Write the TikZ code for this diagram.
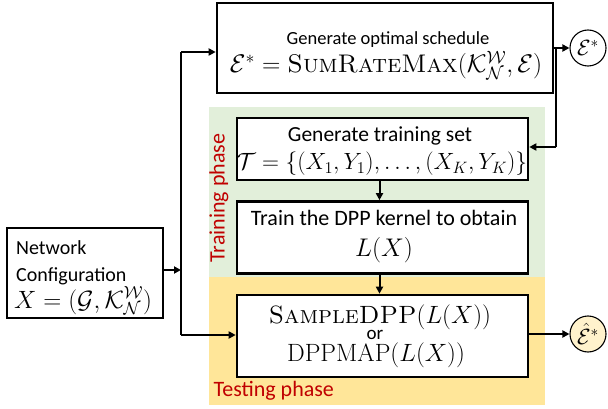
\RequirePackage{fix-cm}
\documentclass[tikz,border=0pt]{standalone}
\usepackage{amsmath}
\usepackage[no-math]{fontspec}
\newfontfamily\calfont{Carlito}
\usetikzlibrary{arrows.meta}
\definecolor{trgreen}{HTML}{E2EFDA}
\definecolor{tsyellow}{HTML}{FFE699}
\definecolor{phred}{HTML}{C00000}
\definecolor{circyellow}{HTML}{FFF2CC}
\tikzset{
  box/.style={draw=black, line width=2.6pt, fill=white, inner sep=0pt},
  lbl/.style={inner sep=0pt, anchor=base},
  lblw/.style={inner sep=0pt, anchor=base west},
  conn/.style={line width=2pt, -{Triangle[length=7pt,width=7pt]}},
  plain/.style={line width=2pt},
  outc/.style={draw=black, line width=1.1pt, circle, minimum size=36pt, inner sep=0pt},
  phase/.style={font=\calfont\fontsize{22}{24}\selectfont, text=phred}
}
\newcommand{\msz}[2]{{\fontsize{#1}{#1}\selectfont$#2$}}
\newcommand{\tsz}[2]{{\calfont\fontsize{#1}{#1}\selectfont #2}}
\begin{document}
\begin{tikzpicture}[x=1pt,y=-1pt]
\useasboundingbox (0,0) rectangle (608,409);
% phase regions
\fill[trgreen] (209,107) rectangle (545,277);
\fill[tsyellow] (209,277) rectangle (545,405);
\node[phase, rotate=90] (trlab) at (219,198) {Training phase};
\node[phase, anchor=west] (tslab) at (210,391) {Testing phase};
% boxes
\node[box, minimum width=336pt, minimum height=90pt] (top) at (385,48) {};
\node[box, minimum width=291pt, minimum height=62pt] (trset) at (382.5,149) {};
\node[box, minimum width=291pt, minimum height=72pt] (train) at (382.5,237.5) {};
\node[box, minimum width=291pt, minimum height=82pt] (sample) at (382.5,336) {};
\node[box, minimum width=156pt, minimum height=90pt] (net) at (85,273) {};
% box texts
\node[lbl] (topA) at (388,45) {\tsz{18.5}{Generate optimal schedule}};
\node[lbl] (topB) at (386,73) {\msz{25.5}{\mathcal{E}^* = \text{\normalfont\scshape SumRateMax}(\mathcal{K}_{\mathcal{N}}^{\mathcal{W}},\mathcal{E})}};
\node[lbl] (trsetA) at (380,142) {\tsz{21.5}{Generate training set}};
\node[lbl] (trsetB) at (382,169.5) {\msz{23.5}{\mathcal{T}=\{(X_1,Y_1),\ldots,(X_K,Y_K)\}}};
\node[lbl] (trainA) at (384,225) {\tsz{22}{Train the DPP kernel to obtain}};
\node[lbl] (trainB) at (384,256) {\msz{25.5}{L(X)}};
\node[lbl] (sampleA) at (380,323) {\msz{25}{\text{\normalfont\scshape SampleDPP}(L(X))}};
\node[lbl] (sampleB) at (375,339) {\tsz{19}{or}};
\node[lbl] (sampleC) at (376,361) {\msz{25}{\mathrm{DPPMAP}(L(X))}};
\node[lblw] (netA) at (16,254) {\tsz{20}{Network}};
\node[lblw] (netB) at (16,281) {\tsz{20}{Configuration}};
\node[lblw] (netC) at (14,308) {\msz{25}{X=(\mathcal{G},\mathcal{K}_{\mathcal{N}}^{\mathcal{W}})}};
% outputs
\node[outc, fill=white] (estar) at (588,48) {\msz{22}{\mathcal{E}^*}};
\node[outc, fill=circyellow] (ehat) at (588,334) {\msz{22}{\hat{\mathcal{E}}^*}};
% junctions
\coordinate (jtop) at (181,52);
\coordinate (jnet) at (181,270);
\coordinate (jbot) at (181,335);
\coordinate (jr) at (556,48);
\coordinate (jrb) at (556,147);
% connectors
\draw[plain] (jtop) -- (jbot);
\draw[conn] (net.east |- jnet) -- (jnet);
\draw[conn] (jtop) -- (top.west |- jtop);
\draw[conn] (jbot) -- (sample.west |- jbot);
\draw[conn] (top.east |- estar) -- (estar);
\draw[plain] (jr) -- (jrb);
\draw[conn] (jrb) -- (trset.east |- jrb);
\draw[conn] ([xshift=-3pt]trset.south) -- ([xshift=-3pt]train.north);
\draw[conn] ([xshift=-3pt]train.south) -- ([xshift=-3pt]sample.north);
\draw[conn] (sample.east |- ehat) -- (ehat);
\end{tikzpicture}
\end{document}
